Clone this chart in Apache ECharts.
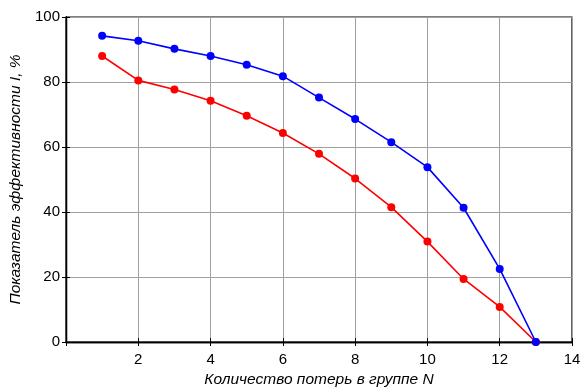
<!DOCTYPE html>
<html><head><meta charset="utf-8">
<script src="https://cdn.jsdelivr.net/npm/echarts@6/dist/echarts.min.js"></script>
<style>html,body{margin:0;padding:0;background:#fff}#c{width:582px;height:387px}</style>
</head><body><div id="c"></div>
<script>
const xValues = [1,2,3,4,5,6,7,8,9,10,11,12,13];
const blueValues = [94.2,92.7,90.2,88.0,85.3,81.8,75.2,68.6,61.5,53.8,41.3,22.5,0];
const redValues = [88.0,80.5,77.7,74.2,69.6,64.3,57.9,50.3,41.5,30.9,19.4,10.8,0];
const xTicks = [0,2,4,6,8,10,12,14];
const yTicks = [0,20,40,60,80,100];
const xName = 'Количество потерь в группе N';
const yName = 'Показатель эффективности I, %';

const font = 'Liberation Sans, Arial, sans-serif';
const chart = echarts.init(document.getElementById('c'), null, {renderer:'canvas'});
const pairs = (ys) => xValues.map((x,i)=>[x, ys[i]]);
const baseX = {type:'value', min:0, max:14, interval:2};
const baseY = {type:'value', min:0, max:100, interval:20};
chart.setOption({
  animation:false,
  grid:{left:66, top:17, width:506, height:325, show:true, borderColor:'#000', borderWidth:1.2, backgroundColor:'transparent', outerBoundsMode:'none', containLabel:false},
  xAxis:[
    Object.assign({}, baseX, {
      position:'bottom',
      name:xName, nameLocation:'middle', nameGap:30,
      nameTextStyle:{fontFamily:font, fontStyle:'italic', fontSize:15.5, color:'#000'},
      axisLine:{show:true, lineStyle:{color:'#000', width:1.3}},
      axisTick:{show:true, inside:true, length:4, lineStyle:{color:'#000'}},
      axisLabel:{fontFamily:font, fontSize:15, color:'#000', margin:10,
        formatter:(v)=> v===0 ? '' : String(v)},
      splitLine:{show:true, lineStyle:{color:'#a0a0a0', width:1}}
    }),
    Object.assign({}, baseX, {
      position:'top',
      axisLine:{show:true, lineStyle:{color:'#000', width:1.3}},
      axisTick:{show:true, inside:true, length:4, lineStyle:{color:'#000'}},
      axisLabel:{show:false}, splitLine:{show:false}
    })
  ],
  yAxis:[
    Object.assign({}, baseY, {
      position:'left',
      name:yName, nameLocation:'middle', nameGap:40, nameRotate:90,
      nameTextStyle:{fontFamily:font, fontStyle:'italic', fontSize:15.5, color:'#000'},
      axisLine:{show:true, lineStyle:{color:'#000', width:1.3}},
      axisTick:{show:true, inside:true, length:4, lineStyle:{color:'#000'}},
      axisLabel:{fontFamily:font, fontSize:15, color:'#000', margin:6},
      splitLine:{show:true, lineStyle:{color:'#a0a0a0', width:1}}
    }),
    Object.assign({}, baseY, {
      position:'right',
      axisLine:{show:true, lineStyle:{color:'#000', width:1.3}},
      axisTick:{show:true, inside:true, length:4, lineStyle:{color:'#000'}},
      axisLabel:{show:false}, splitLine:{show:false}
    })
  ],
  series:[
    {type:'line', data:pairs(redValues), color:'#ff0000', symbol:'circle', symbolSize:8,
     lineStyle:{width:1.6, color:'#ff0000'}, itemStyle:{color:'#ff0000'}, z:3},
    {type:'line', data:pairs(blueValues), color:'#0000ff', symbol:'circle', symbolSize:8,
     lineStyle:{width:1.6, color:'#0000ff'}, itemStyle:{color:'#0000ff'}, z:4}
  ]
});
</script></body></html>
